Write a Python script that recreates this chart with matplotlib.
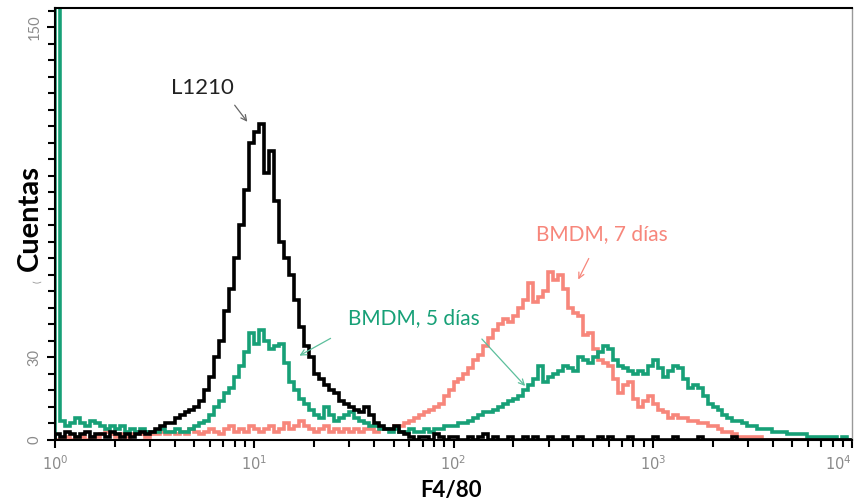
import numpy as np
import matplotlib
matplotlib.use("Agg")
import matplotlib.pyplot as plt
from matplotlib.ticker import FixedLocator, MultipleLocator, LogLocator, NullFormatter

# ============================================================
# datos: histogramas (40 canales por década, 10^0 .. 10^4)
# ============================================================
BINS_PER_DECADE = 40
edges = 10 ** (np.arange(0, 4 * BINS_PER_DECADE + 1) / BINS_PER_DECADE)

l1210 = [
    2, 1, 3, 2, 1, 2, 3, 1, 2, 2, 1, 3, 2, 1, 2, 1, 2, 3, 2, 3,
    4, 5, 6, 6, 8, 9, 10, 11, 12, 14, 18, 23, 30, 36, 47, 55, 66, 78, 91, 108,
    112, 115, 97, 105, 87, 72, 66, 60, 51, 41, 34, 30, 24, 22, 20, 18, 17, 14, 13, 12,
    11, 10, 12, 9, 6, 5, 4, 4, 5, 3, 2, 1, 0, 1, 1, 0, 2, 1, 0, 1,
    1, 0, 0, 1, 0, 1, 2, 0, 1, 0, 0, 1, 0, 0, 1, 0, 1, 0, 0, 1,
    0, 0, 1, 0, 0, 1, 0, 0, 0, 1, 0, 1, 0, 0, 0, 1, 0, 0, 0, 0,
    1, 0, 0, 0, 1, 0, 0, 0, 0, 1, 0, 0, 0, 0, 0, 0, 1, 0, 0, 0,
    0, 0, 0, 0, 0, 0, 0, 0, 0, 0, 0, 0, 0, 0, 0, 0, 0, 0, 0, 0,
]

bmdm_5d = [
    200, 7, 5, 6, 8, 6, 5, 7, 6, 5, 4, 5, 4, 5, 3, 4, 3, 4, 3, 3,
    3, 4, 3, 3, 4, 3, 3, 4, 5, 6, 7, 9, 12, 14, 17, 19, 23, 27, 32, 39,
    35, 40, 36, 33, 34, 35, 28, 21, 18, 15, 13, 11, 9, 8, 12, 9, 7, 8, 9, 10,
    8, 7, 6, 5, 5, 4, 4, 3, 4, 3, 3, 4, 3, 3, 4, 3, 4, 4, 5, 5,
    5, 6, 6, 7, 8, 9, 10, 10, 11, 12, 13, 14, 15, 16, 18, 20, 22, 27, 21, 23,
    24, 25, 27, 26, 25, 30, 29, 28, 30, 32, 34, 33, 29, 27, 26, 25, 24, 25, 24, 27,
    29, 26, 23, 25, 27, 26, 22, 19, 20, 19, 16, 13, 12, 11, 9, 8, 7, 7, 6, 5,
    5, 4, 4, 4, 3, 3, 3, 2, 2, 2, 2, 1, 1, 1, 1, 1, 1, 0, 1, 0,
]

bmdm_7d = [
    0, 0, 1, 0, 1, 1, 0, 1, 1, 2, 3, 2, 1, 2, 1, 2, 3, 2, 1, 2,
    2, 3, 2, 3, 2, 3, 2, 4, 3, 2, 3, 4, 3, 2, 4, 5, 3, 4, 3, 5,
    4, 3, 4, 5, 3, 4, 6, 4, 5, 7, 5, 4, 3, 4, 5, 3, 4, 3, 4, 3,
    4, 3, 4, 4, 3, 4, 4, 4, 5, 5, 6, 7, 8, 9, 10, 11, 12, 13, 16, 18,
    21, 22, 24, 26, 29, 31, 34, 37, 40, 42, 44, 43, 45, 48, 51, 57, 50, 52, 54, 61,
    58, 60, 55, 48, 46, 45, 38, 39, 33, 29, 28, 27, 22, 17, 20, 21, 15, 12, 14, 16,
    13, 11, 10, 8, 9, 8, 8, 7, 7, 6, 6, 5, 5, 4, 3, 3, 2, 1, 1, 1,
    1, 1, 0, 0, 0, 0, 0, 0, 0, 0, 0, 0, 0, 0, 0, 0, 0, 0, 0, 0,
]

y_ticks = [0, 30, 150]
x_ticks = [1, 10, 100, 1000, 10000]
x_ticklabels = ["$10^{0}$", "$10^{1}$", "$10^{2}$", "$10^{3}$", "$10^{4}$"]

GREEN = "#17a077"
SALMON = "#f7867b"
GRAY = "#8a8a8a"

plt.rcParams["font.family"] = ["Lato", "DejaVu Sans"]

fig = plt.figure(figsize=(8.56, 5.04), dpi=100)
ax = fig.add_axes([55 / 856, 64 / 504, 797 / 856, 432 / 504])

ax.stairs(bmdm_7d, edges, color=SALMON, lw=2.6)
ax.stairs(bmdm_5d, edges, color=GREEN, lw=2.6)
ax.stairs(l1210, edges, color="black", lw=2.6)

ax.set_xscale("log")
ax.set_xlim(1, 10000)
ax.set_ylim(0, 157)

# ejes y marcas
ax.xaxis.set_major_locator(FixedLocator(x_ticks))
ax.set_xticklabels(x_ticklabels)
ax.xaxis.set_minor_locator(LogLocator(base=10, subs=np.arange(2, 10)))
ax.xaxis.set_minor_formatter(NullFormatter())
ax.yaxis.set_major_locator(FixedLocator(y_ticks))
ax.yaxis.set_minor_locator(MultipleLocator(6))

ax.tick_params(axis="both", which="major", direction="out", length=6, width=1.5,
               color="black", labelcolor=GRAY, labelsize=10.5)
ax.tick_params(axis="both", which="minor", direction="out", length=5, width=1.5,
               color="black")
ax.tick_params(axis="x", which="major", pad=4)
for lab in ax.get_yticklabels():
    lab.set_rotation(90)
    lab.set_va("center")
# la última etiqueta queda pegada al borde derecho
ax.get_xticklabels()[-1].set_ha("right")

for side in ["left", "bottom", "top"]:
    ax.spines[side].set_color("black")
    ax.spines[side].set_linewidth(1.5)
ax.spines["right"].set_color("#999999")
ax.spines["right"].set_linewidth(1.0)

fig.text(30 / 856, 1 - 218 / 504, "Cuentas", rotation=90, ha="center", va="center",
         fontsize=21, fontweight="bold", color="black")
fig.text(451 / 856, 1 - 490 / 504, "F4/80", ha="center", va="center",
         fontsize=16, fontweight="bold", color="black")
fig.text(38 / 856, 1 - 282 / 504, "(", ha="center", va="center", rotation=90,
         fontsize=7, color=GRAY)

# anotaciones
def arrow(xy_px, xytext_px, arrow_color):
    ax.annotate("", xy=(xy_px[0] / 856, 1 - xy_px[1] / 504), xycoords="figure fraction",
                xytext=(xytext_px[0] / 856, 1 - xytext_px[1] / 504), textcoords="figure fraction",
                arrowprops=dict(arrowstyle="->", color=arrow_color, lw=0.9))

fig.text(202 / 856, 1 - 88 / 504, "L1210", ha="center", va="center", fontsize=16, color="#222222")
arrow((249, 124), (233, 103), "#666666")

fig.text(414 / 856, 1 - 318 / 504, "BMDM, 5 días", ha="center", va="center", fontsize=15, color=GREEN)
arrow((297, 357), (333, 337), "#5cbf9c")
arrow((527, 388), (480, 337), "#5cbf9c")

fig.text(602 / 856, 1 - 234 / 504, "BMDM, 7 días", ha="center", va="center", fontsize=15, color=SALMON)
arrow((577, 282), (590, 256), SALMON)

fig.savefig("out.png", dpi=100)
